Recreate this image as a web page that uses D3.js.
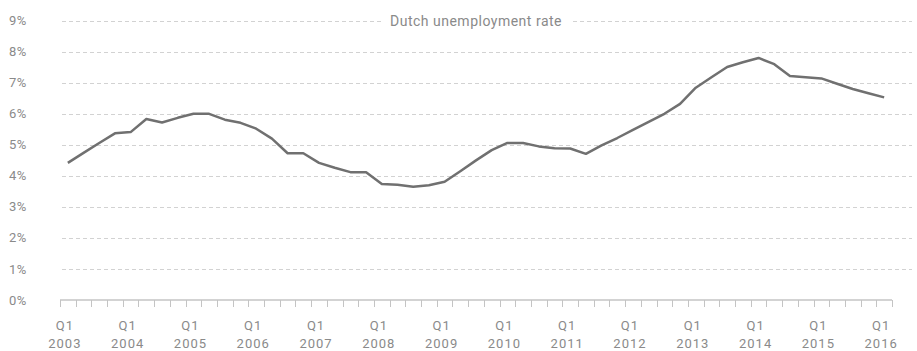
<!DOCTYPE html>
<html>
<head>
<meta charset="utf-8">
<script src="https://cdn.jsdelivr.net/npm/d3@7"></script>
<style>
	body { margin: 0; background: #fff; }
	svg text { font-family: Roboto, "Noto Sans", sans-serif; fill: #8a8a8a; }
</style>
</head>
<body>
<div id="chart"></div>
<script>
// Years shown on the x axis, the series runs from Q1 2003 up to Q1 2016
var years = [2003, 2004, 2005, 2006, 2007, 2008, 2009, 2010, 2011, 2012, 2013, 2014, 2015, 2016];
var quarterNames = ['Q1', 'Q2', 'Q3', 'Q4'];

// Unemployment rate (%) per quarter
var rates = [
	4.42, 4.74, 5.06, 5.37,
	5.41, 5.83, 5.72, 5.87,
	6.00, 6.00, 5.81, 5.71,
	5.52, 5.20, 4.73, 4.73,
	4.42, 4.26, 4.12, 4.12,
	3.74, 3.71, 3.65, 3.70,
	3.81, 4.15, 4.50, 4.83,
	5.06, 5.06, 4.95, 4.89,
	4.88, 4.71, 4.98, 5.22,
	5.48, 5.74, 6.00, 6.32,
	6.84, 7.18, 7.51, 7.66,
	7.80, 7.60, 7.22, 7.18,
	7.14, 6.97, 6.80, 6.66,
	6.53
];

var yTicks = [0, 1, 2, 3, 4, 5, 6, 7, 8, 9];
var title = 'Dutch unemployment rate';

// Build the quarter categories
var quarters = [];
years.forEach(function(y) {
	quarterNames.forEach(function(q) {
		if (quarters.length < rates.length) quarters.push({ q: q, year: y, key: q + ' ' + y });
	});
});

var data = quarters.map(function(d, i) { return { key: d.key, q: d.q, year: d.year, value: rates[i] }; });

var width = 917, height = 351;
var left = 60, right = 892, gridRight = 912;

var svg = d3.select('#chart').append('svg')
	.attr('width', width)
	.attr('height', height);

var x = d3.scaleBand()
	.domain(data.map(function(d) { return d.key; }))
	.range([left, right])
	.padding(0);

var y = d3.scaleLinear()
	.domain([0, 9])
	.range([300, 20.7]);

// Dashed gridlines (0% is the solid axis)
svg.append('g').selectAll('line')
	.data(yTicks.filter(function(t) { return t > 0; }))
	.enter()
	.append('line')
	.attr('x1', left + 2)
	.attr('x2', gridRight)
	.attr('y1', function(d) { return Math.round(y(d)) + 0.5; })
	.attr('y2', function(d) { return Math.round(y(d)) + 0.5; })
	.attr('stroke', '#d2d2d2')
	.attr('stroke-width', 1)
	.attr('stroke-dasharray', '4,3');

// y labels
svg.append('g').selectAll('text')
	.data(yTicks)
	.enter()
	.append('text')
	.attr('x', 27)
	.attr('y', function(d) { return y(d); })
	.attr('dy', '0.35em')
	.attr('text-anchor', 'end')
	.style('font-size', '13px')
	.style('letter-spacing', '0.6px')
	.text(function(d) { return d + '%'; });

// Title sits on the top gridline with a white knockout
var titleG = svg.append('g');
var titleText = titleG.append('text')
	.attr('x', (left + right) / 2)
	.attr('y', y(9))
	.attr('dy', '0.35em')
	.attr('text-anchor', 'middle')
	.style('font-size', '14px')
	.style('letter-spacing', '0.5px')
	.text(title);
var bb = titleText.node().getBBox();
titleG.insert('rect', 'text')
	.attr('x', bb.x - 8)
	.attr('y', bb.y)
	.attr('width', bb.width + 16)
	.attr('height', bb.height)
	.attr('fill', '#fff');

// x axis line and quarter ticks at the band edges
var axisG = svg.append('g');
axisG.append('line')
	.attr('x1', left)
	.attr('x2', right)
	.attr('y1', y(0))
	.attr('y2', y(0))
	.attr('stroke', '#c4c4c4')
	.attr('stroke-width', 1.5);

var edges = data.map(function(d) { return x(d.key); }).concat([x.range()[1]]);
axisG.selectAll('line.tick')
	.data(edges)
	.enter()
	.append('line')
	.attr('class', 'tick')
	.attr('x1', function(d) { return Math.round(d) + 0.5; })
	.attr('x2', function(d) { return Math.round(d) + 0.5; })
	.attr('y1', y(0))
	.attr('y2', y(0) + 7)
	.attr('stroke', '#c4c4c4')
	.attr('stroke-width', 1);

// Labels on each Q1
var labels = axisG.selectAll('g.label')
	.data(data.filter(function(d) { return d.q === 'Q1'; }))
	.enter()
	.append('g')
	.attr('class', 'label')
	.attr('transform', function(d) { return 'translate(' + (x(d.key) + x.bandwidth() / 2 - 3) + ',0)'; });

labels.append('text')
	.attr('y', 330)
	.attr('text-anchor', 'middle')
	.style('font-size', '13px')
	.style('letter-spacing', '1px')
	.text(function(d) { return d.q; });

labels.append('text')
	.attr('y', 348)
	.attr('text-anchor', 'middle')
	.style('font-size', '13px')
	.style('letter-spacing', '1px')
	.text(function(d) { return d.year; });

// The series line
var line = d3.line()
	.x(function(d) { return x(d.key) + x.bandwidth() / 2; })
	.y(function(d) { return y(d.value); });

svg.append('path')
	.datum(data)
	.attr('d', line)
	.attr('fill', 'none')
	.attr('stroke', '#707070')
	.attr('stroke-width', 2.5)
	.attr('stroke-linejoin', 'round');
</script>
</body>
</html>
